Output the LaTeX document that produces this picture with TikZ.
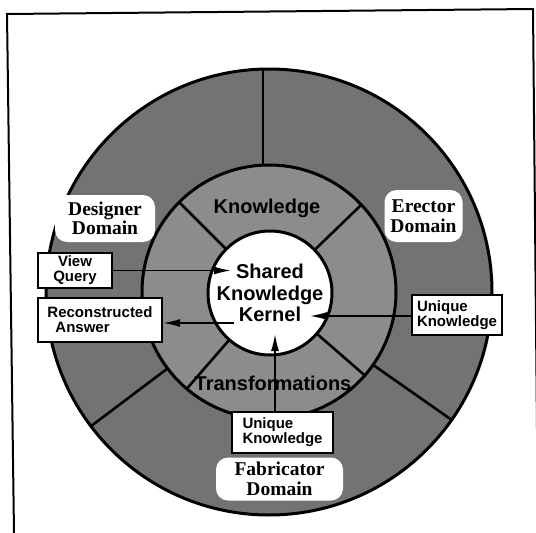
\documentclass[tikz,border=0pt]{standalone}
\usepackage{fontspec}
\setmainfont{Liberation Serif}
\setsansfont{Liberation Sans}
\usetikzlibrary{arrows.meta,calc}
\begin{document}
\begin{tikzpicture}[x=1pt,y=-1pt,
  ringline/.style={line width=3pt},
  divider/.style={line width=2.6pt},
  infobox/.style={draw, line width=2pt, fill=white, inner sep=0pt,
    font=\sffamily\bfseries\fontsize{15}{15}\selectfont},
  blob/.style={fill=white, rounded corners=12pt, inner sep=0pt, align=center,
    font=\rmfamily\bfseries\fontsize{19.5}{19.5}\selectfont},
  ringlabel/.style={font=\sffamily\bfseries\fontsize{20}{21.5}\selectfont, inner sep=0pt},
  arr/.style={line width=1.6pt, -{Latex[length=17pt,width=8pt]}},
]
\useasboundingbox (0,0) rectangle (536,533);
\fill[white] (0,0) rectangle (536,533);
\draw[line width=2pt] (14,533) -- (7,14) -- (533,9) -- (538,533);

% rings
\coordinate (c) at (269,292);
\coordinate (k) at (270,293);
\fill[black!55] (c) circle[radius=223pt];
\fill[black!45] (c) circle[radius=127pt];
\draw[ringline] (c) circle[radius=223pt];
\draw[ringline] (c) circle[radius=127pt];

% outer ring dividers
\draw[divider] (263,166) -- (263,69);
\draw[divider] ($(c)+(35:127)$) -- ($(c)+(35:223)$);
\draw[divider] ($(c)+(143:127)$) -- ($(c)+(143:223)$);

% middle ring dividers
\foreach \a in {-135,-44,41,131}
  \draw[divider] ($(k)+(\a:60)$) -- ($(k)+(\a:127)$);

% kernel
\node[circle, draw, line width=3pt, fill=white, minimum size=124pt, inner sep=0pt,
      align=center, ringlabel] (kernel) at (k) {Shared\\Knowledge\\Kernel};

% ring labels
\node[ringlabel] (knowl) at (267,208) {Knowledge};
\node[ringlabel] (trans) at (273,383) {Transformations};

% domain labels
\node[blob, minimum width=100pt, minimum height=47pt] (designer) at (105,218.5) {Designer\\Domain};
\node[blob, minimum width=78pt, minimum height=52pt] (erector) at (423.5,216) {Erector\\Domain};
\node[blob, minimum width=127pt, minimum height=43pt] (fabricator) at (279.5,479) {Fabricator\\Domain};

% boxes
\node[infobox, minimum width=74pt, minimum height=35pt, align=center] (vq) at (75,270.5) {View\\Query};
\node[infobox, minimum width=124pt, minimum height=44pt, align=left] (ra) at (100,320) {Reconstructed\\\hspace*{8pt}Answer};
\node[infobox, minimum width=90pt, minimum height=40pt, align=left] (uk1) at (457,315) {Unique\\Knowledge};
\node[infobox, minimum width=101pt, minimum height=41pt, align=left] (uk2) at (282.5,432.5) {Unique\\Knowledge};

% arrows
\coordinate (vqtip) at (231,270.5);
\draw[arr] (vq.east) -- (vqtip);
\coordinate (ratail) at (234,323);
\draw[arr] (ratail) -- (ratail -| ra.east);
\coordinate (uk1tip) at (310,316);
\draw[arr] (uk1tip -| uk1.west) -- (uk1tip);
\coordinate (uk2tip) at (275,334);
\draw[arr] (uk2tip |- uk2.north) -- (uk2tip);
\end{tikzpicture}
\end{document}
